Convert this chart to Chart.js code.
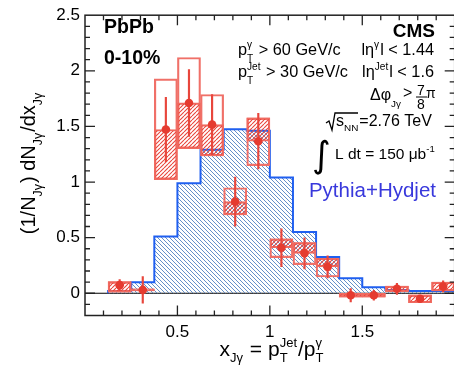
<!DOCTYPE html>
<html>
<head>
<meta charset="utf-8">
<style>html,body{margin:0;padding:0;overflow:hidden;background:#fff}</style>
<script src="https://cdn.jsdelivr.net/npm/chart.js@4.4.0/dist/chart.umd.min.js"></script>
</head>
<body>
<canvas id="c" width="459" height="373"></canvas>
<script>
// bin edges of x_Jgamma
const binEdges = [0.125, 0.25, 0.375, 0.5, 0.625, 0.75, 0.875, 1.0, 1.125, 1.25, 1.375, 1.5, 1.625, 1.75, 1.875, 2.0];
// Pythia+Hydjet histogram
const mcHist = [0.02, 0.10, 0.51, 0.99, 1.29, 1.475, 1.46, 1.04, 0.55, 0.325, 0.135, 0.055, 0.03, 0.02, 0.02];
// PbPb data
const dataVal = [0.073, 0.03, 1.472, 1.711, 1.516, 0.824, 1.367, 0.409, 0.359, 0.237, -0.018, -0.018, 0.04, -0.05, 0.061];
const statErr = [0.05, 0.12, 0.29, 0.30, 0.27, 0.22, 0.25, 0.17, 0.14, 0.10, 0.06, 0.045, 0.05, 0.02, 0.05];
const sysLow = [0.01, 0.02, 1.022, 1.30, 1.235, 0.704, 1.148, 0.32, 0.257, 0.146, -0.035, -0.035, 0.015, -0.085, 0.02];
const sysHigh = [0.105, 0.04, 1.928, 2.12, 1.787, 0.949, 1.577, 0.49, 0.456, 0.315, 0, 0, 0.065, -0.015, 0.1];
const hatchLow = [0.01, 0.02, 1.022, 1.30, 1.235, 0.704, 1.367, 0.409, 0.359, 0.237, -0.035, -0.035, 0.015, -0.085, 0.02];
const hatchHigh = [0.105, 0.04, 1.472, 1.711, 1.516, 0.824, 1.577, 0.49, 0.456, 0.315, 0, 0, 0.065, -0.015, 0.1];
// axis labels
const xTicks = [0.5, 1, 1.5];
const yTicks = [0, 0.5, 1, 1.5, 2, 2.5];

const FAM = '"Liberation Sans", Arial, sans-serif';
const canvas = document.getElementById("c");
const ctx = canvas.getContext("2d");

function hatch(color, dir, size, lw) {
  const c = document.createElement("canvas");
  c.width = c.height = size;
  const g = c.getContext("2d");
  g.strokeStyle = color;
  g.lineWidth = lw;
  g.beginPath();
  for (let k = -1; k <= 1; k++) {
    if (dir > 0) { g.moveTo(k * size, size); g.lineTo(k * size + size, 0); }
    else { g.moveTo(k * size, 0); g.lineTo(k * size + size, size); }
  }
  g.stroke();
  return ctx.createPattern(c, "repeat");
}

const blueHatch = hatch("#6690c8", -1, 4, 1);
const redHatch = hatch("#e8463c", 1, 4, 1.1);

const centers = binEdges.slice(0, -1).map((e, i) => (e + binEdges[i + 1]) / 2);
const mcPoints = [{ x: binEdges[0], y: 0 }]
  .concat(mcHist.map((v, i) => ({ x: binEdges[i], y: v })))
  .concat([{ x: binEdges[binEdges.length - 1], y: mcHist[mcHist.length - 1] }]);

// rich text with sub / superscripts
function rich(g, x, y, parts, size, opt = {}) {
  const sm = size * (opt.small || 0.62);
  const bold = opt.bold ? "bold " : "";
  const f = (s) => `${bold}${s}px ${FAM}`;
  const widths = parts.map((p) => {
    if (typeof p === "string") { g.font = f(size); return g.measureText(p).width; }
    g.font = f(sm);
    return Math.max(p.sub ? g.measureText(p.sub).width : 0, p.sup ? g.measureText(p.sup).width : 0) + 1;
  });
  const w = widths.reduce((a, b) => a + b, 0);
  let cx = opt.align === "right" ? x - w : opt.align === "center" ? x - w / 2 : x;
  g.fillStyle = opt.color || "#000";
  g.textAlign = "left";
  g.textBaseline = "alphabetic";
  parts.forEach((p, i) => {
    if (typeof p === "string") { g.font = f(size); g.fillText(p, cx, y); }
    else {
      g.font = f(sm);
      if (p.sub) g.fillText(p.sub, cx, y + size * (opt.subOff || 0.42));
      if (p.sup) g.fillText(p.sup, cx, y - size * 0.45);
    }
    cx += widths[i];
  });
}

const framePlugin = {
  id: "frame",
  beforeDatasetsDraw(chart) {
    const { ctx: g, chartArea: a, scales } = chart;
    const y0 = scales.y.getPixelForValue(0);
    g.save();
    g.strokeStyle = "#000";
    g.lineWidth = 1.2;
    g.beginPath();
    g.moveTo(a.left, y0);
    g.lineTo(a.right, y0);
    g.stroke();
    g.restore();
  },
  afterDatasetsDraw(chart) {
    const { ctx: g, chartArea: a, scales } = chart;
    g.save();
    g.strokeStyle = "#222";
    g.lineWidth = 1.3;
    g.beginPath();
    for (let i = 1; i < 20; i++) {
      const px = scales.x.getPixelForValue(i / 10);
      const len = i % 5 === 0 ? 10 : 5;
      g.moveTo(px, a.bottom); g.lineTo(px, a.bottom - len);
      g.moveTo(px, a.top); g.lineTo(px, a.top + len);
    }
    for (let i = -1; i < 25; i++) {
      const py = scales.y.getPixelForValue(i / 10);
      const len = i % 5 === 0 ? 10 : 5;
      g.moveTo(a.left, py); g.lineTo(a.left + len, py);
      g.moveTo(a.right, py); g.lineTo(a.right - len, py);
    }
    g.stroke();
    g.lineWidth = 1.5;
    g.strokeRect(a.left, a.top, a.right - a.left, a.bottom - a.top);
    g.restore();
  },
  afterDraw(chart) {
    const g = chart.ctx;
    g.save();
    rich(g, 104, 33, ["PbPb"], 19.5, { bold: true });
    rich(g, 104, 64, ["0-10%"], 19.5, { bold: true });
    rich(g, 435, 37, ["CMS"], 19, { bold: true, align: "right" });

    rich(g, 238, 55, ["p", { sub: "T", sup: "\u03b3" }, " > 60 GeV/c"], 16.3);
    rich(g, 434, 55, ["l\u03b7", { sup: "\u03b3" }, "l < 1.44"], 16.3, { align: "right" });
    rich(g, 238, 77, ["p", { sub: "T", sup: "Jet" }, " > 30 GeV/c"], 16.3);
    rich(g, 434, 77, ["l\u03b7", { sup: "Jet" }, "l < 1.6"], 16.3, { align: "right" });

    // delta phi > 7/8 pi
    rich(g, 402, 100, ["\u0394\u03c6", { sub: "J\u03b3" }], 16, { align: "right", subOff: 0.45 });
    g.font = `16px ${FAM}`;
    g.fillText(">", 403, 98);
    g.font = `14px ${FAM}`;
    g.textAlign = "center";
    g.fillText("7", 421, 95);
    g.fillText("8", 421, 109);
    g.textAlign = "left";
    g.fillText("\u03c0", 426, 98);
    g.strokeStyle = "#000";
    g.lineWidth = 1;
    g.beginPath();
    g.moveTo(416, 97); g.lineTo(427, 97);
    g.stroke();

    // sqrt(s_NN)
    g.lineWidth = 1.3;
    g.beginPath();
    g.moveTo(326, 123); g.lineTo(329, 121); g.lineTo(332, 130); g.lineTo(335, 113); g.lineTo(358, 113);
    g.stroke();
    rich(g, 336, 126, ["s", { sub: "NN" }, "=2.76 TeV"], 16, { subOff: 0.3 });

    // integrated luminosity
    g.font = `36px "DejaVu Sans", sans-serif`;
    g.fillText("\u222b", 312, 167);
    rich(g, 335, 159, ["L dt = 150 \u03bcb", { sup: "-1" }], 15.5);

    rich(g, 436, 197, ["Pythia+Hydjet"], 20.5, { align: "right", color: "#3838dc" });

    // x axis title
    rich(g, 272, 356, ["x", { sub: "J\u03b3" }, " = p", { sub: "T", sup: "Jet" }, "/p", { sub: "T", sup: "\u03b3" }], 21, { align: "center", subOff: 0.3 });

    // y axis title
    g.translate(35, 163);
    g.rotate(-Math.PI / 2);
    rich(g, 0, 0, ["(1/N", { sub: "J\u03b3" }, ") dN", { sub: "J\u03b3" }, "/dx", { sub: "J\u03b3" }], 20, { align: "center", subOff: 0.35 });
    g.restore();
  },
};

new Chart(ctx, {
  type: "bar",
  data: {
    datasets: [
      {
        type: "line",
        data: mcPoints,
        stepped: "before",
        borderColor: "#1f5ff0",
        borderWidth: 2,
        backgroundColor: blueHatch,
        fill: "origin",
        pointRadius: 0,
        order: 10,
      },
      {
        data: centers.map((c, i) => ({ x: c, y: [sysLow[i], sysHigh[i]] })),
        backgroundColor: "rgba(0,0,0,0)",
        borderColor: "#f07068",
        borderWidth: 1.5,
        borderSkipped: false,
        barPercentage: 1,
        categoryPercentage: 1,
        grouped: false,
        order: 5,
      },
      {
        data: centers.map((c, i) => ({ x: c, y: [hatchLow[i], hatchHigh[i]] })),
        backgroundColor: redHatch,
        borderColor: "#f06a60",
        borderWidth: 1.5,
        borderSkipped: false,
        barPercentage: 1,
        categoryPercentage: 1,
        grouped: false,
        order: 4,
      },
      {
        data: centers.map((c, i) => ({ x: c, y: [dataVal[i] - statErr[i], dataVal[i] + statErr[i]] })),
        backgroundColor: "#e8463c",
        borderWidth: 0,
        barThickness: 1.5,
        grouped: false,
        order: 2,
      },
      {
        type: "line",
        data: centers.map((c, i) => ({ x: c, y: dataVal[i] })),
        showLine: false,
        pointRadius: 4.3,
        pointBackgroundColor: "#e53b30",
        pointBorderWidth: 0,
        order: 1,
      },
    ],
  },
  options: {
    responsive: false,
    animation: false,
    events: [],
    layout: { padding: { top: 7.3, left: 0, right: 0, bottom: 0 } },
    plugins: { legend: { display: false }, tooltip: { enabled: false } },
    scales: {
      x: {
        type: "linear",
        offset: false,
        min: 0,
        max: 2,
        grid: { display: false, drawTicks: false, offset: false },
        border: { display: false },
        afterBuildTicks: (s) => { s.ticks = xTicks.map((v) => ({ value: v })); },
        afterFit: (s) => { s.height = 57.5; },
        ticks: { font: { size: 17, family: FAM }, color: "#000", padding: 7, maxRotation: 0, callback: (v) => String(v) },
      },
      y: {
        min: -0.2,
        max: 2.5,
        grid: { display: false, drawTicks: false },
        border: { display: false },
        afterBuildTicks: (s) => { s.ticks = yTicks.map((v) => ({ value: v })); },
        afterFit: (s) => { s.width = 85; },
        ticks: { font: { size: 17, family: FAM }, color: "#000", padding: 5, callback: (v) => String(v) },
      },
    },
  },
  plugins: [framePlugin],
});
</script>
</body>
</html>
